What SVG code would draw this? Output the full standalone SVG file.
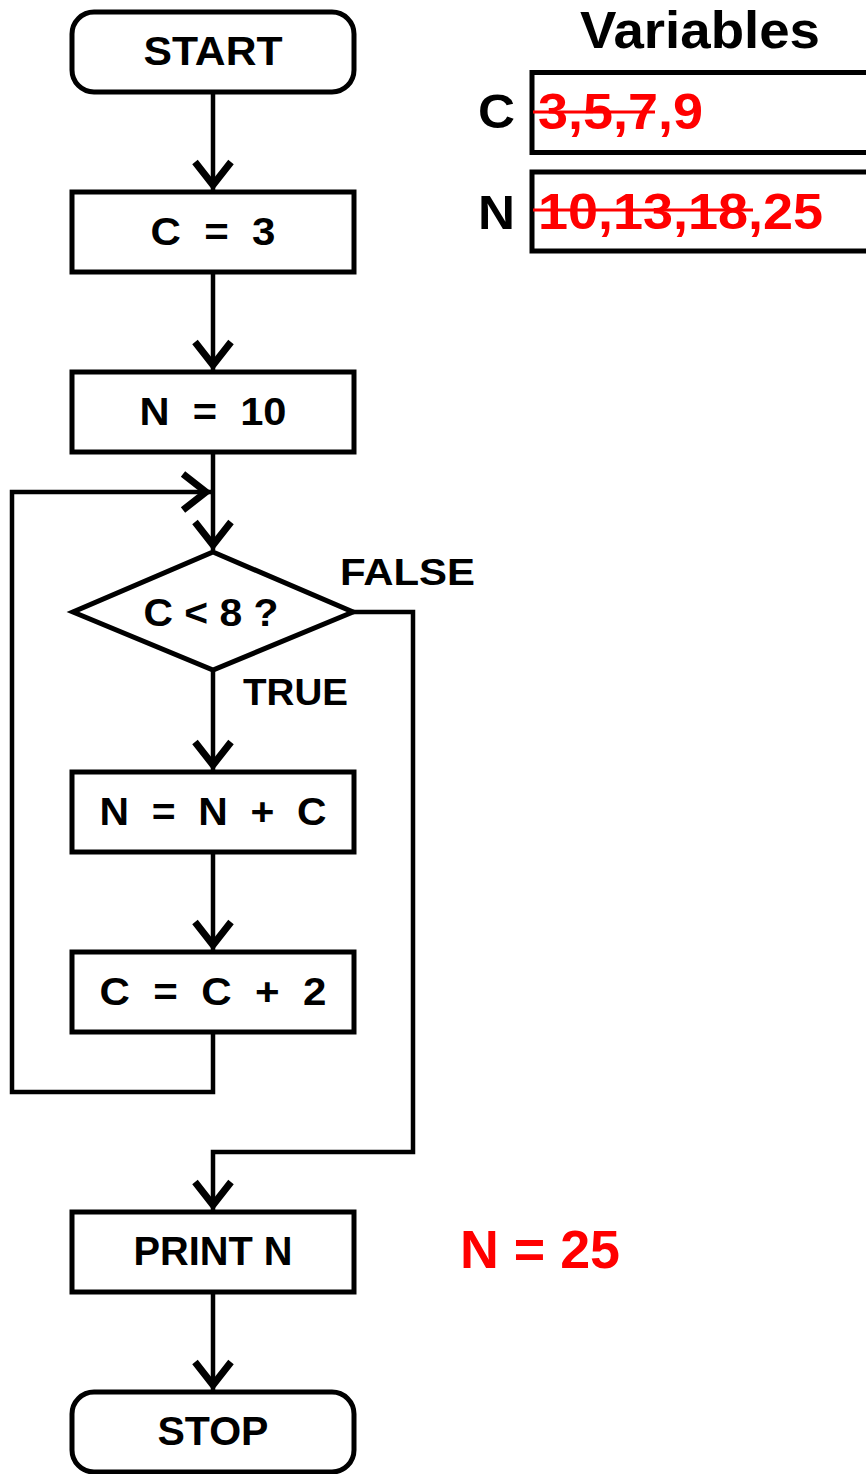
<svg xmlns="http://www.w3.org/2000/svg" width="866" height="1474" viewBox="0 0 866 1474">
<style>
.box{fill:#fff;stroke:#000;stroke-width:5}
.ln{fill:none;stroke:#000;stroke-width:4.5;stroke-linejoin:miter}
.t{font-family:"Liberation Sans",Arial,sans-serif;font-weight:bold;fill:#000}
.r{font-family:"Liberation Sans",Arial,sans-serif;font-weight:bold;fill:#ff0000}
.strike{stroke:#ff0000;stroke-width:3}
</style>
<defs>
<marker id="ah" markerUnits="userSpaceOnUse" markerWidth="44" markerHeight="50" viewBox="-38 -25 44 50" refX="0" refY="0" orient="auto">
<path d="M-28,-18 L-5,0 L-28,18" fill="none" stroke="#000" stroke-width="7" stroke-linejoin="miter" stroke-miterlimit="10"/>
</marker>
</defs>
<rect width="866" height="1474" fill="#fff"/>
<g id="connectors">
<line class="ln" x1="213" y1="92" x2="213" y2="190" marker-end="url(#ah)"/>
<line class="ln" x1="213" y1="272" x2="213" y2="370" marker-end="url(#ah)"/>
<line class="ln" x1="213" y1="452" x2="213" y2="550" marker-end="url(#ah)"/>
<line class="ln" x1="213" y1="670" x2="213" y2="770" marker-end="url(#ah)"/>
<line class="ln" x1="213" y1="852" x2="213" y2="950" marker-end="url(#ah)"/>
<polyline class="ln" points="213,1032 213,1092 12,1092 12,492 211,492" marker-end="url(#ah)"/>
<polyline class="ln" points="353,612 413,612 413,1152 213,1152 213,1210" marker-end="url(#ah)"/>
<line class="ln" x1="213" y1="1292" x2="213" y2="1390" marker-end="url(#ah)"/>
</g>
<g id="start"><rect class="box" x="72" y="12" width="282" height="80" rx="22"/><text class="t" x="213" y="65" font-size="41" text-anchor="middle" textLength="139" lengthAdjust="spacingAndGlyphs">START</text></g>
<g id="c3"><rect class="box" x="72" y="192" width="282" height="80"/><text class="t" x="213" y="245" font-size="39" text-anchor="middle" xml:space="preserve" textLength="125" lengthAdjust="spacingAndGlyphs">C  =  3</text></g>
<g id="n10"><rect class="box" x="72" y="372" width="282" height="80"/><text class="t" x="213" y="425" font-size="39" text-anchor="middle" xml:space="preserve" textLength="147" lengthAdjust="spacingAndGlyphs">N  =  10</text></g>
<g id="decision"><polygon class="box" points="213,552 353,612 213,670 73,612"/><text class="t" x="211" y="626" font-size="39" text-anchor="middle" textLength="135" lengthAdjust="spacingAndGlyphs">C &lt; 8 ?</text></g>
<g id="labels"><text class="t" x="340" y="585" font-size="36" textLength="135" lengthAdjust="spacingAndGlyphs">FALSE</text><text class="t" x="243" y="705" font-size="36" textLength="105" lengthAdjust="spacingAndGlyphs">TRUE</text></g>
<g id="nnc"><rect class="box" x="72" y="772" width="282" height="80"/><text class="t" x="213" y="825" font-size="39" text-anchor="middle" xml:space="preserve" textLength="227" lengthAdjust="spacingAndGlyphs">N  =  N  +  C</text></g>
<g id="ccc"><rect class="box" x="72" y="952" width="282" height="80"/><text class="t" x="213" y="1005" font-size="39" text-anchor="middle" xml:space="preserve" textLength="227" lengthAdjust="spacingAndGlyphs">C  =  C  +  2</text></g>
<g id="print"><rect class="box" x="72" y="1212" width="282" height="80"/><text class="t" x="213" y="1265" font-size="40" text-anchor="middle" textLength="159" lengthAdjust="spacingAndGlyphs">PRINT N</text></g>
<g id="stop"><rect class="box" x="72" y="1392" width="282" height="80" rx="22"/><text class="t" x="213" y="1445" font-size="40" text-anchor="middle" textLength="111" lengthAdjust="spacingAndGlyphs">STOP</text></g>
<g id="result"><text class="r" x="460" y="1268" font-size="53" textLength="160" lengthAdjust="spacingAndGlyphs">N = 25</text></g>
<g id="variables">
<text class="t" x="580" y="48" font-size="52" textLength="240" lengthAdjust="spacingAndGlyphs">Variables</text>
<text class="t" x="478" y="128" font-size="49" textLength="37" lengthAdjust="spacingAndGlyphs">C</text>
<rect class="box" x="532" y="72.5" width="345" height="80"/>
<text class="r" x="538" y="129" font-size="50" textLength="165" lengthAdjust="spacingAndGlyphs">3,5,7,9</text>
<line class="strike" x1="533" y1="112" x2="655" y2="112"/>
<text class="t" x="478" y="229" font-size="49" textLength="37" lengthAdjust="spacingAndGlyphs">N</text>
<rect class="box" x="532" y="172" width="345" height="79"/>
<text class="r" x="538" y="229" font-size="50" textLength="285" lengthAdjust="spacingAndGlyphs">10,13,18,25</text>
<line class="strike" x1="533" y1="210" x2="753" y2="210"/>
</g>
</svg>
